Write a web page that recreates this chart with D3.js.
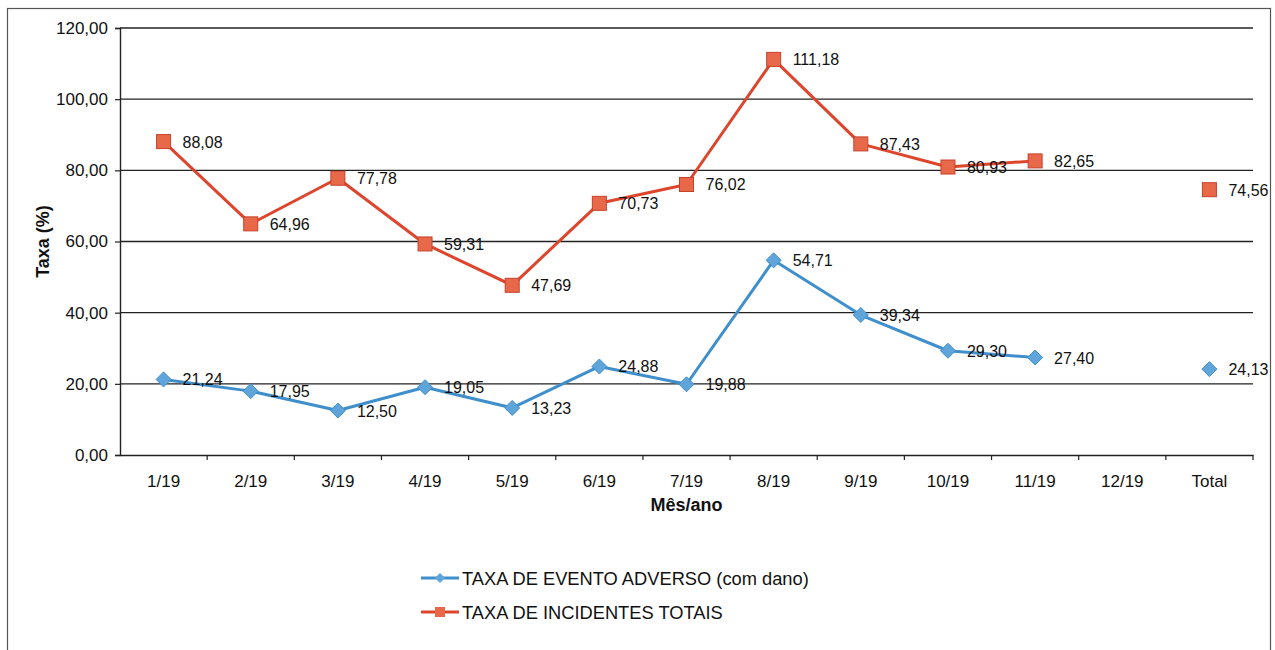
<!DOCTYPE html>
<html>
<head>
<meta charset="utf-8">
<script src="https://cdn.jsdelivr.net/npm/d3@7"></script>
<style>
  body { margin: 0; background: #fff; }
  svg { display: block; font-family: "Liberation Sans", Arial, sans-serif; }
</style>
</head>
<body>
<svg id="chart" width="1275" height="650"></svg>
<script>
// Monthly rates (%) plus the yearly total; null = month without data
const categories = ["1/19", "2/19", "3/19", "4/19", "5/19", "6/19", "7/19", "8/19", "9/19", "10/19", "11/19", "12/19", "Total"];
const eventoAdverso = [21.24, 17.95, 12.50, 19.05, 13.23, 24.88, 19.88, 54.71, 39.34, 29.30, 27.40, null, 24.13];
const incidentesTotais = [88.08, 64.96, 77.78, 59.31, 47.69, 70.73, 76.02, 111.18, 87.43, 80.93, 82.65, null, 74.56];
const yTicks = [0, 20, 40, 60, 80, 100, 120];

const svg = d3.select("#chart");
const m = { left: 120, right: 1253, top: 28, bottom: 455 };

const fmt = v => d3.format(".2f")(v).replace(".", ",");

// outer frame
svg.append("rect").attr("x", 7.5).attr("y", 8.5).attr("width", 1263).attr("height", 660)
  .attr("fill", "none").attr("stroke", "#555").attr("stroke-width", 1.2);

const x = d3.scaleBand().domain(categories).range([m.left, m.right]);
const y = d3.scaleLinear().domain([0, 120]).range([m.bottom, m.top]);

// horizontal gridlines
svg.append("g").selectAll("line").data(yTicks.filter(d => d > 0)).join("line")
  .attr("x1", m.left).attr("x2", m.right)
  .attr("y1", d => y(d)).attr("y2", d => y(d))
  .attr("stroke", "#222").attr("stroke-width", 1.4);

// y axis
const yAxis = svg.append("g").attr("transform", `translate(${m.left},0)`)
  .call(d3.axisLeft(y).tickValues(yTicks).tickFormat(fmt).tickSize(5).tickPadding(7));
yAxis.select(".domain").attr("stroke", "#222").attr("stroke-width", 1.4);
yAxis.selectAll(".tick line").attr("stroke", "#222").attr("stroke-width", 1.2);
yAxis.selectAll("text").attr("font-size", 17).attr("fill", "#111");

// x axis with tick marks at category boundaries
const xAxis = svg.append("g").attr("transform", `translate(0,${m.bottom})`)
  .call(d3.axisBottom(x).tickSize(0).tickPadding(20));
xAxis.select(".domain").attr("stroke", "#222").attr("stroke-width", 1.4);
xAxis.selectAll("text").attr("font-size", 17).attr("fill", "#111");
svg.append("g").selectAll("line").data(d3.range(1, categories.length + 1)).join("line")
  .attr("x1", i => m.left + x.step() * i)
  .attr("x2", i => m.left + x.step() * i)
  .attr("y1", m.bottom).attr("y2", m.bottom + 5)
  .attr("stroke", "#222").attr("stroke-width", 1.2);

// axis titles
svg.append("text").attr("transform", `translate(49,${(m.top + m.bottom) / 2}) rotate(-90)`)
  .attr("text-anchor", "middle").attr("font-size", 18).attr("font-weight", "bold").attr("fill", "#111")
  .text("Taxa (%)");
svg.append("text").attr("x", (m.left + m.right) / 2).attr("y", 511)
  .attr("text-anchor", "middle").attr("font-size", 18).attr("font-weight", "bold").attr("fill", "#111")
  .text("Mês/ano");

const series = [
  { name: "TAXA DE EVENTO ADVERSO (com dano)", values: eventoAdverso, line: "#3f8fcc", fill: "#5fa5da", stroke: "#3f8fcc", shape: "diamond" },
  { name: "TAXA DE INCIDENTES TOTAIS", values: incidentesTotais, line: "#dd452c", fill: "#e8694a", stroke: "#c9402a", shape: "square" }
];

const cx = c => x(c) + x.bandwidth() / 2;
const line = d3.line()
  .defined(d => d.v != null)
  .x(d => cx(d.c)).y(d => y(d.v));

function marker(g, shape, fill, stroke) {
  if (shape === "square") {
    g.append("rect").attr("x", -7).attr("y", -7).attr("width", 14).attr("height", 14)
      .attr("fill", fill).attr("stroke", stroke).attr("stroke-width", 1);
  } else {
    g.append("path").attr("d", "M0,-7.5L7.5,0L0,7.5L-7.5,0Z")
      .attr("fill", fill).attr("stroke", stroke).attr("stroke-width", 1);
  }
}

series.forEach(s => {
  const pts = categories.map((c, i) => ({ c, v: s.values[i] }));
  // the monthly line stops before the gap; "Total" stays an isolated marker
  const monthly = pts.slice(0, categories.length - 1);
  svg.append("path").datum(monthly).attr("d", line)
    .attr("fill", "none").attr("stroke", s.line).attr("stroke-width", 3)
    .attr("stroke-linejoin", "round");
  pts.filter(d => d.v != null).forEach(d => {
    const g = svg.append("g").attr("transform", `translate(${cx(d.c)},${y(d.v)})`);
    marker(g, s.shape, s.fill, s.stroke);
    svg.append("text").attr("x", cx(d.c) + 19).attr("y", y(d.v) + 6)
      .attr("font-size", 16).attr("fill", "#111").text(fmt(d.v));
  });
});

// legend
series.forEach((s, i) => {
  const ly = 578 + i * 34;
  svg.append("line").attr("x1", 421).attr("x2", 459).attr("y1", ly).attr("y2", ly)
    .attr("stroke", s.line).attr("stroke-width", 3);
  const g = svg.append("g").attr("transform", `translate(440,${ly})`);
  if (s.shape === "square") {
    g.append("rect").attr("x", -5).attr("y", -5).attr("width", 10).attr("height", 10).attr("fill", s.fill);
  } else {
    g.append("path").attr("d", "M0,-5L5,0L0,5L-5,0Z").attr("fill", s.fill);
  }
  svg.append("text").attr("x", 462).attr("y", ly + 6.5).attr("font-size", 18.3).attr("fill", "#111").text(s.name);
});
</script>
</body>
</html>
